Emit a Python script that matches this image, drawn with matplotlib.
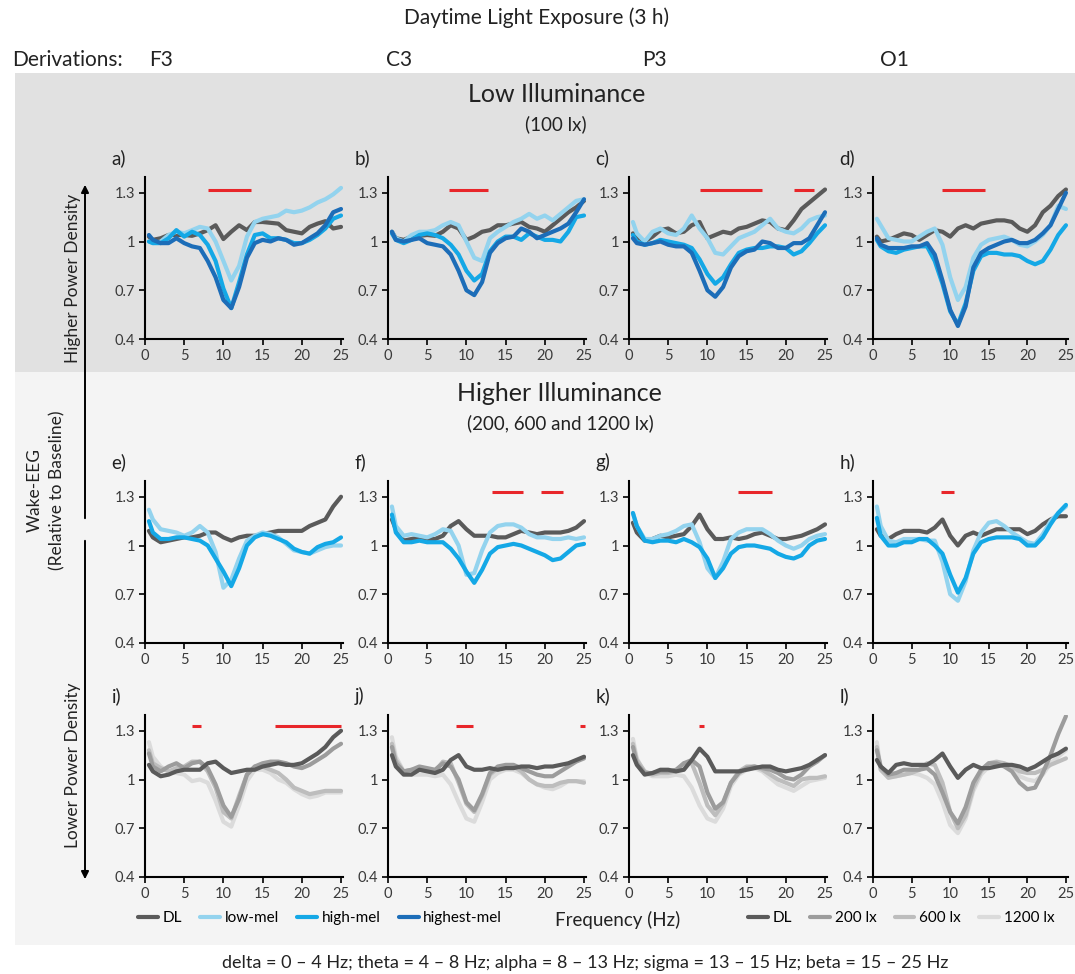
import matplotlib
matplotlib.use('Agg')
import matplotlib.pyplot as plt
from matplotlib.patches import Rectangle, FancyArrowPatch

plt.rcParams['font.family'] = ['Lato', 'DejaVu Sans']

# ---------------- data ----------------
FREQ = [0.5, 1, 2, 3, 4, 5, 6, 7, 8, 9, 10, 11, 12, 13, 14, 15, 16, 17, 18, 19, 20, 21, 22, 23, 24, 25]

BLUE_LABELS = ['DL', 'low-mel', 'high-mel', 'highest-mel']
GRAY_LABELS = ['DL', '200 lx', '600 lx', '1200 lx']
DERIVATIONS = ['F3', 'C3', 'P3', 'O1']
PANEL_LABELS = ['a', 'b', 'c', 'd', 'e', 'f', 'g', 'h', 'i', 'j', 'k', 'l']
Y_TICKS = [0.4, 0.7, 1.0, 1.3]
Y_TICKLABELS = ['0.4', '0.7', '1', '1.3']
X_TICKS = [0, 5, 10, 15, 20, 25]

# Row 1: low illuminance (100 lx)
A_DL = [1.03,1.01,1.02,1.04,1.04,1.04,1.035,1.05,1.07,1.10,1.015,1.06,1.10,1.07,1.12,1.12,1.115,1.11,1.07,1.06,1.05,1.09,1.11,1.125,1.08,1.09]
A_LOW = [1.0,0.99,1.0,1.04,1.06,1.05,1.07,1.09,1.08,1.0,0.88,0.76,0.85,1.03,1.12,1.14,1.15,1.16,1.19,1.18,1.19,1.21,1.24,1.26,1.29,1.33]
A_HIGH = [1.0,0.99,0.99,1.02,1.07,1.03,1.06,1.04,0.98,0.88,0.71,0.59,0.75,0.92,1.04,1.05,1.02,1.02,1.01,0.99,0.99,1.01,1.04,1.08,1.14,1.16]
A_HIGHEST = [1.04,1.01,0.99,0.99,1.02,0.99,0.97,0.96,0.88,0.78,0.64,0.59,0.72,0.90,0.99,1.01,1.00,1.02,1.01,0.98,0.99,1.02,1.05,1.10,1.18,1.20]

B_DL = [1.06,1.02,1.01,1.03,1.035,1.04,1.035,1.06,1.10,1.08,1.01,1.03,1.06,1.07,1.10,1.10,1.11,1.12,1.09,1.08,1.06,1.10,1.14,1.18,1.21,1.25]
B_LOW = [1.06,1.02,1.0,1.04,1.06,1.06,1.07,1.10,1.12,1.10,1.0,0.90,0.88,1.02,1.06,1.09,1.12,1.14,1.17,1.14,1.16,1.13,1.17,1.21,1.25,1.26]
B_HIGH = [1.05,1.01,0.99,1.01,1.04,1.05,1.04,1.02,0.98,0.92,0.82,0.76,0.80,0.94,1.0,1.03,1.03,1.01,1.05,1.03,1.01,1.01,1.0,1.06,1.15,1.16]
B_HIGHEST = [1.06,1.01,1.0,1.01,1.02,0.99,0.98,0.97,0.92,0.82,0.70,0.67,0.75,0.93,0.99,1.02,1.03,1.08,1.06,1.02,1.04,1.06,1.08,1.11,1.18,1.26]

C_DL = [1.05,1.03,1.0,1.03,1.07,1.08,1.05,1.06,1.10,1.12,1.02,1.04,1.06,1.05,1.08,1.09,1.11,1.13,1.12,1.08,1.07,1.13,1.20,1.24,1.28,1.32]
C_LOW = [1.12,1.05,1.0,1.06,1.08,1.05,1.04,1.08,1.16,1.08,1.02,0.93,0.92,0.97,1.02,1.04,1.06,1.10,1.14,1.08,1.06,1.05,1.08,1.13,1.15,1.16]
C_HIGH = [1.04,1.0,0.98,0.99,1.01,1.0,0.99,0.98,0.96,0.89,0.80,0.74,0.78,0.86,0.93,0.95,0.96,0.96,0.97,0.97,0.96,0.92,0.94,0.99,1.05,1.10]
C_HIGHEST = [1.02,0.99,0.98,0.99,1.0,0.98,0.97,0.97,0.93,0.82,0.70,0.66,0.72,0.84,0.91,0.94,0.95,1.0,0.99,0.96,0.96,0.99,0.99,1.02,1.10,1.18]

D_DL = [1.03,1.0,1.01,1.03,1.05,1.04,1.01,1.04,1.07,1.06,1.03,1.08,1.10,1.08,1.11,1.12,1.13,1.13,1.12,1.08,1.06,1.10,1.18,1.22,1.28,1.32]
D_LOW = [1.14,1.10,1.02,1.01,1.0,1.0,1.03,1.06,1.08,0.98,0.78,0.64,0.72,0.90,0.98,1.01,1.02,1.03,1.01,0.98,0.97,1.0,1.04,1.10,1.22,1.20]
D_HIGH = [1.01,0.97,0.94,0.93,0.95,0.96,0.97,0.97,0.88,0.74,0.57,0.49,0.62,0.82,0.91,0.93,0.93,0.92,0.92,0.91,0.88,0.86,0.88,0.95,1.04,1.10]
D_HIGHEST = [1.02,0.98,0.96,0.96,0.96,0.97,0.97,0.99,0.92,0.76,0.58,0.48,0.60,0.84,0.93,0.96,0.98,1.0,1.01,0.99,0.99,1.01,1.05,1.10,1.20,1.30]

# Row 2: higher illuminance, melanopic conditions
E_DL = [1.09,1.05,1.02,1.03,1.04,1.05,1.05,1.06,1.08,1.08,1.05,1.03,1.05,1.06,1.06,1.07,1.08,1.09,1.09,1.09,1.09,1.12,1.14,1.16,1.24,1.30]
E_LOW = [1.22,1.16,1.10,1.09,1.08,1.06,1.08,1.12,1.08,0.96,0.74,0.79,0.92,1.03,1.06,1.08,1.07,1.05,1.01,0.97,0.96,0.95,0.97,0.99,1.0,1.0]
E_HIGH = [1.15,1.08,1.04,1.04,1.05,1.05,1.04,1.03,1.0,0.92,0.84,0.75,0.86,1.0,1.05,1.07,1.06,1.04,1.02,0.98,0.96,0.95,0.99,1.01,1.02,1.05]

F_DL = [1.16,1.10,1.03,1.04,1.05,1.04,1.04,1.06,1.12,1.15,1.10,1.06,1.06,1.06,1.05,1.05,1.07,1.09,1.08,1.07,1.08,1.08,1.08,1.09,1.11,1.15]
F_LOW = [1.24,1.12,1.06,1.07,1.06,1.05,1.07,1.10,1.09,1.0,0.82,0.83,0.97,1.08,1.12,1.13,1.13,1.11,1.07,1.05,1.05,1.04,1.04,1.05,1.04,1.05]
F_HIGH = [1.19,1.08,1.02,1.02,1.03,1.02,1.02,1.02,0.98,0.92,0.84,0.77,0.85,0.95,0.99,1.0,1.01,1.0,0.98,0.96,0.94,0.91,0.92,0.96,1.0,1.01]

G_DL = [1.14,1.08,1.03,1.04,1.06,1.05,1.06,1.07,1.12,1.19,1.10,1.04,1.04,1.05,1.04,1.05,1.07,1.08,1.06,1.04,1.04,1.05,1.06,1.08,1.10,1.13]
G_LOW = [1.20,1.12,1.04,1.04,1.06,1.07,1.09,1.12,1.13,1.02,0.86,0.80,0.90,1.04,1.08,1.10,1.10,1.10,1.07,1.03,1.0,0.98,1.0,1.04,1.06,1.07]
G_HIGH = [1.20,1.12,1.03,1.02,1.03,1.03,1.02,1.04,1.02,0.99,0.92,0.80,0.86,0.95,0.99,1.0,1.0,0.99,0.98,0.95,0.93,0.92,0.94,1.0,1.03,1.04]

H_DL = [1.10,1.06,1.04,1.07,1.09,1.09,1.09,1.08,1.11,1.16,1.06,1.0,1.06,1.08,1.06,1.08,1.10,1.10,1.10,1.10,1.07,1.09,1.13,1.16,1.18,1.18]
H_LOW = [1.24,1.12,1.03,1.02,1.04,1.04,1.04,1.03,1.03,0.90,0.70,0.66,0.78,0.97,1.08,1.14,1.15,1.12,1.08,1.05,1.02,1.01,1.07,1.15,1.20,1.24]
H_HIGH = [1.17,1.06,1.0,1.0,1.02,1.02,1.04,1.04,1.0,0.95,0.82,0.71,0.80,0.95,1.02,1.04,1.05,1.05,1.05,1.04,1.0,1.0,1.05,1.13,1.20,1.25]

# Row 3: higher illuminance, photopic levels
I_DL = [1.09,1.05,1.02,1.03,1.05,1.06,1.06,1.06,1.10,1.11,1.07,1.04,1.05,1.06,1.06,1.08,1.09,1.10,1.09,1.09,1.10,1.13,1.16,1.20,1.26,1.30]
I_200 = [1.16,1.08,1.05,1.08,1.10,1.07,1.10,1.11,1.07,0.97,0.84,0.77,0.88,1.03,1.08,1.10,1.11,1.11,1.10,1.08,1.07,1.09,1.12,1.15,1.19,1.22]
I_600 = [1.18,1.10,1.07,1.05,1.07,1.08,1.11,1.11,1.05,0.95,0.80,0.76,0.90,1.03,1.08,1.08,1.06,1.04,1.0,0.95,0.93,0.91,0.92,0.93,0.93,0.93]
I_1200 = [1.23,1.14,1.08,1.05,1.04,1.03,0.99,1.0,0.98,0.87,0.74,0.71,0.84,0.99,1.06,1.06,1.04,1.0,0.98,0.94,0.91,0.89,0.90,0.92,0.92,0.92]

J_DL = [1.15,1.08,1.03,1.03,1.06,1.05,1.04,1.06,1.12,1.15,1.08,1.06,1.06,1.07,1.06,1.07,1.07,1.08,1.08,1.07,1.08,1.08,1.09,1.10,1.12,1.14]
J_200 = [1.20,1.10,1.05,1.06,1.08,1.07,1.06,1.10,1.08,1.0,0.86,0.81,0.91,1.04,1.08,1.09,1.09,1.07,1.05,1.03,1.02,1.02,1.05,1.08,1.11,1.13]
J_600 = [1.22,1.12,1.05,1.06,1.06,1.06,1.05,1.11,1.10,0.98,0.85,0.80,0.90,1.03,1.07,1.08,1.08,1.05,1.0,0.97,0.96,0.96,0.98,0.99,0.99,0.98]
J_1200 = [1.26,1.14,1.05,1.03,1.03,1.03,1.02,1.03,0.97,0.86,0.76,0.74,0.86,1.0,1.04,1.06,1.06,1.04,1.0,0.97,0.95,0.94,0.96,0.99,0.99,0.99]

K_DL = [1.15,1.09,1.03,1.04,1.06,1.06,1.05,1.06,1.12,1.19,1.14,1.05,1.05,1.05,1.05,1.06,1.07,1.08,1.08,1.06,1.05,1.06,1.07,1.09,1.12,1.15]
K_200 = [1.20,1.10,1.04,1.04,1.05,1.05,1.06,1.10,1.12,1.08,0.92,0.82,0.86,0.98,1.04,1.07,1.08,1.07,1.06,1.04,1.01,1.0,1.03,1.08,1.11,1.15]
K_600 = [1.22,1.12,1.05,1.03,1.04,1.04,1.05,1.10,1.10,0.98,0.84,0.78,0.85,0.98,1.05,1.08,1.08,1.06,1.03,1.0,0.98,0.96,1.0,1.01,1.01,1.02]
K_1200 = [1.25,1.13,1.04,1.02,1.02,1.02,1.03,1.02,0.95,0.84,0.76,0.74,0.82,0.96,1.03,1.06,1.07,1.05,1.01,0.97,0.95,0.93,0.96,0.99,1.0,1.01]

L_DL = [1.12,1.08,1.04,1.09,1.10,1.09,1.09,1.09,1.12,1.16,1.08,1.01,1.06,1.09,1.07,1.07,1.08,1.09,1.09,1.08,1.06,1.08,1.11,1.14,1.16,1.19]
L_200 = [1.18,1.08,1.03,1.04,1.06,1.06,1.06,1.07,1.03,0.92,0.80,0.73,0.83,0.98,1.06,1.10,1.10,1.08,1.05,0.98,0.94,0.95,1.04,1.15,1.28,1.39]
L_600 = [1.20,1.06,1.01,1.02,1.03,1.04,1.06,1.10,1.09,0.98,0.80,0.70,0.78,0.95,1.05,1.10,1.11,1.10,1.08,1.05,1.04,1.04,1.06,1.09,1.11,1.13]
L_1200 = [1.23,1.06,1.02,1.02,1.03,1.04,1.03,1.01,0.97,0.86,0.72,0.67,0.76,0.93,1.03,1.08,1.10,1.09,1.06,1.02,1.0,0.99,1.03,1.10,1.14,1.18]

# significance bars (start Hz, end Hz)
SIG_A = [(8.0, 13.5)]
SIG_B = [(7.8, 12.8)]
SIG_C = [(9.1, 17.0), (21.0, 23.6)]
SIG_D = [(8.9, 14.5)]
SIG_E = []
SIG_F = [(13.2, 17.2), (19.5, 22.3)]
SIG_G = [(13.9, 18.3)]
SIG_H = [(8.8, 10.5)]
SIG_I = [(6.0, 7.1), (16.6, 25.0)]
SIG_J = [(8.7, 10.9), (24.5, 25.1)]
SIG_K = [(8.9, 9.6)]
SIG_L = []

# ---------------- styling ----------------
BLUE_COLORS = ['#5a5a5a', '#93d3ee', '#14a8e6', '#1c6db8']
GRAY_COLORS = ['#5a5a5a', '#9c9c9c', '#bdbdbd', '#dbdbdb']
RED = '#e8262a'

W, H = 1075, 974
fig = plt.figure(figsize=(W / 100, H / 100), dpi=100)
fig.patch.set_facecolor('white')


def fx(px):
    return px / W


def fy(py):
    return 1 - py / H


# background bands
fig.add_artist(Rectangle((fx(15), fy(372)), 1 - fx(15), (372 - 73) / H,
                         transform=fig.transFigure, facecolor='#e1e1e1',
                         edgecolor='none', zorder=-5))
fig.add_artist(Rectangle((fx(15), fy(945)), 1 - fx(15), (945 - 372) / H,
                         transform=fig.transFigure, facecolor='#f4f4f4',
                         edgecolor='none', zorder=-5))

panels = [
    [(A_DL, A_LOW, A_HIGH, A_HIGHEST), SIG_A, BLUE_LABELS, BLUE_COLORS],
    [(B_DL, B_LOW, B_HIGH, B_HIGHEST), SIG_B, BLUE_LABELS, BLUE_COLORS],
    [(C_DL, C_LOW, C_HIGH, C_HIGHEST), SIG_C, BLUE_LABELS, BLUE_COLORS],
    [(D_DL, D_LOW, D_HIGH, D_HIGHEST), SIG_D, BLUE_LABELS, BLUE_COLORS],
    [(E_DL, E_LOW, E_HIGH), SIG_E, BLUE_LABELS, BLUE_COLORS],
    [(F_DL, F_LOW, F_HIGH), SIG_F, BLUE_LABELS, BLUE_COLORS],
    [(G_DL, G_LOW, G_HIGH), SIG_G, BLUE_LABELS, BLUE_COLORS],
    [(H_DL, H_LOW, H_HIGH), SIG_H, BLUE_LABELS, BLUE_COLORS],
    [(I_DL, I_200, I_600, I_1200), SIG_I, GRAY_LABELS, GRAY_COLORS],
    [(J_DL, J_200, J_600, J_1200), SIG_J, GRAY_LABELS, GRAY_COLORS],
    [(K_DL, K_200, K_600, K_1200), SIG_K, GRAY_LABELS, GRAY_COLORS],
    [(L_DL, L_200, L_600, L_1200), SIG_L, GRAY_LABELS, GRAY_COLORS],
]

col_left_px = [145, 388, 629, 873]
col_w_px = [197.6, 197.6, 197.6, 194.5]
row_bottom_px = [339, 643, 877]
ax_h_px = 162.5
sig_y = [1.315, 1.33, 1.33]

axes = []
for idx, (series, sig, labels, colors) in enumerate(panels):
    r, c = divmod(idx, 4)
    ax = fig.add_axes([fx(col_left_px[c]), fy(row_bottom_px[r]), col_w_px[c] / W, ax_h_px / H])
    ax.set_facecolor('none')
    if r == 2:
        order = [3, 2, 1, 0]
    else:
        order = list(range(len(series)))
    for k in order:
        ax.plot(FREQ, series[k], color=colors[k], lw=3.0, label=labels[k],
                solid_capstyle='round', solid_joinstyle='round', zorder=3 + (0 if r == 2 else k))
    for (x0, x1) in sig:
        ax.hlines(sig_y[r], x0, x1, color=RED, lw=2.2, zorder=5)
    ax.set_xlim(0, 25.2)
    ax.set_ylim(0.4, 1.4)
    ax.set_yticks(Y_TICKS)
    ax.set_yticklabels(Y_TICKLABELS)
    ax.set_xticks(X_TICKS)
    for s in ['top', 'right']:
        ax.spines[s].set_visible(False)
    for s in ['left', 'bottom']:
        ax.spines[s].set_linewidth(1.5)
        ax.spines[s].set_color('black')
    ax.tick_params(axis='both', length=4, width=1.2, color='black',
                   labelsize=10.5, labelcolor='#3a3a3a', pad=3)
    ax.annotate(PANEL_LABELS[idx] + ')', xy=(0, 1), xycoords='axes fraction',
                xytext=(-24, 13.5), textcoords='offset points',
                ha='left', va='center', fontsize=13.5, color='#222222')
    axes.append(ax)

# legends
hb, lb = axes[0].get_legend_handles_labels()
fig.legend(hb, lb, loc='center', bbox_to_anchor=(fx(320), fy(918)), ncol=4,
           frameon=False, fontsize=11, handlelength=1.3, handletextpad=0.3,
           columnspacing=1.2, borderpad=0, borderaxespad=0)
hg, lg = axes[8].get_legend_handles_labels()
order_g = [lg.index(l) for l in GRAY_LABELS]
fig.legend([hg[i] for i in order_g], [lg[i] for i in order_g], loc='center',
           bbox_to_anchor=(fx(901), fy(918)), ncol=4, frameon=False, fontsize=11,
           handlelength=1.3, handletextpad=0.3, columnspacing=1.2,
           borderpad=0, borderaxespad=0)

# texts
TXT = '#222222'
fig.text(fx(537), fy(18), 'Daytime Light Exposure (3 h)', ha='center', va='center', fontsize=15, color=TXT)
fig.text(fx(12), fy(60), 'Derivations:', ha='left', va='center', fontsize=15, color=TXT)
for name, xp in zip(DERIVATIONS, [149, 386, 642, 880]):
    fig.text(fx(xp), fy(60), name, ha='left', va='center', fontsize=15, color=TXT)
fig.text(fx(557), fy(95), 'Low Illuminance', ha='center', va='center', fontsize=18, color=TXT)
fig.text(fx(556), fy(124), '(100 lx)', ha='center', va='center', fontsize=13.5, color=TXT)
fig.text(fx(559), fy(393), 'Higher Illuminance', ha='center', va='center', fontsize=18, color=TXT)
fig.text(fx(560), fy(423), '(200, 600 and 1200 lx)', ha='center', va='center', fontsize=13.5, color=TXT)
fig.text(fx(618), fy(920), 'Frequency (Hz)', ha='center', va='center', fontsize=13.5, color=TXT)
fig.text(fx(585), fy(963),
         'delta = 0 \u2013 4 Hz; theta = 4 \u2013 8 Hz; alpha = 8 \u2013 13 Hz; sigma = 13 \u2013 15 Hz; beta = 15 \u2013 25 Hz',
         ha='center', va='center', fontsize=13, color=TXT)

# left side annotation
fig.text(fx(73), fy(278), 'Higher Power Density', rotation=90, ha='center', va='center', fontsize=12.5, color=TXT)
fig.text(fx(73), fy(765), 'Lower Power Density', rotation=90, ha='center', va='center', fontsize=12.5, color=TXT)
fig.text(fx(35), fy(490), 'Wake-EEG', rotation=90, ha='center', va='center', fontsize=12.5, color=TXT)
fig.text(fx(57), fy(490), '(Relative to Baseline)', rotation=90, ha='center', va='center', fontsize=12.5, color=TXT)
fig.add_artist(FancyArrowPatch((fx(85), fy(521)), (fx(85), fy(182)), transform=fig.transFigure,
                               arrowstyle='-|>', mutation_scale=11, lw=1.4, color='black'))
fig.add_artist(FancyArrowPatch((fx(85), fy(538)), (fx(85), fy(882)), transform=fig.transFigure,
                               arrowstyle='-|>', mutation_scale=11, lw=1.4, color='black'))

fig.savefig('out.png', dpi=100, facecolor='white')
